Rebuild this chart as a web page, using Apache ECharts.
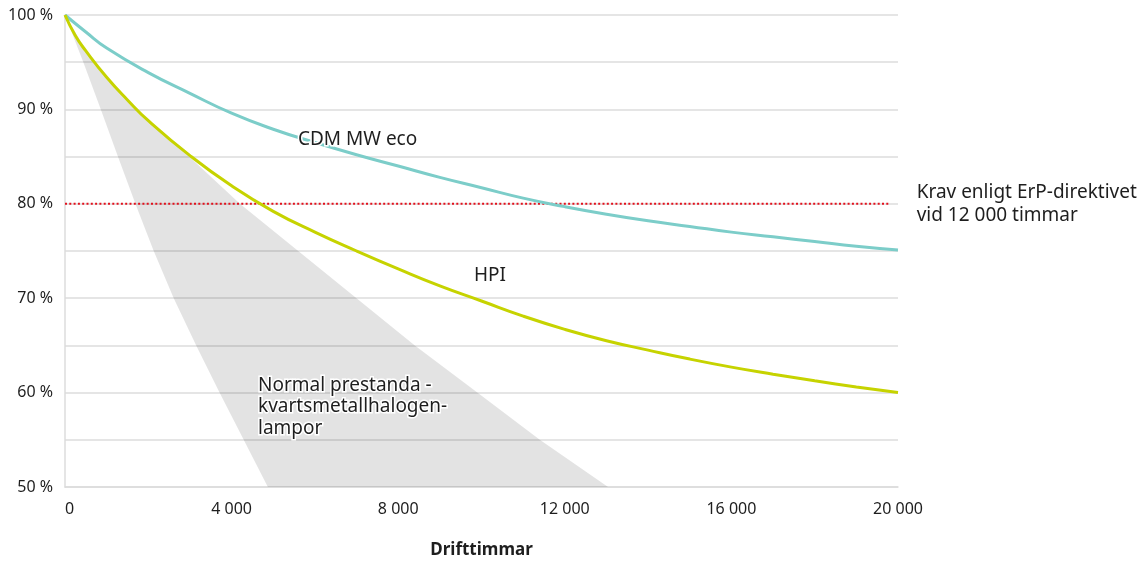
<!DOCTYPE html>
<html>
<head>
<meta charset="utf-8">
<script src="https://cdn.jsdelivr.net/npm/echarts@6/dist/echarts.min.js"></script>
<style>
html,body{margin:0;padding:0;background:#fff;}
#chart{width:1141px;height:564px;}
</style>
</head>
<body>
<div id="chart"></div>
<script>
// ---- data ----
const xTicks = [0, 4000, 8000, 12000, 16000, 20000];
const yTicks = [50, 60, 70, 80, 90, 100];

const cdmHours = [0,500,1000,2000,3000,4000,5000,6000,7000,8000,9000,10000,11000,12000,13000,14000,15000,16000,17000,18000,19000,20000];
const cdmValues = [100,98.2,96.5,93.9,91.7,89.6,87.9,86.5,85.2,84.0,82.8,81.7,80.6,79.7,78.9,78.2,77.6,77.0,76.5,76.0,75.5,75.1];

const hpiHours = [0,250,500,1000,1500,2000,3000,4000,5000,6000,7000,8000,9000,10000,11000,12000,13000,14000,15000,16000,17000,18000,19000,20000];
const hpiValues = [100,97.8,96.2,93.4,91.0,88.8,85.1,81.9,79.2,77.0,75.0,73.1,71.3,69.7,68.1,66.7,65.5,64.5,63.55,62.7,61.95,61.25,60.6,60.0];

// grey band "Normal prestanda": upper (right) edge and lower (left) edge
const bandUpperHours = [0,680,1700,2980,4200,5600,7000,8400,9900,11400,13040];
const bandUpperValues = [100,95,90,85,80,75,70,65,60,55,50];
const bandLowerHours = [0,440,860,1270,1690,2130,2610,3150,3710,4290,4870];
const bandLowerValues = [100,95,90,85,80,75,70,65,60,55,50];

const erpHours = [0, 19800];
const erpValues = [80, 80];
const erpText = 'Krav enligt ErP-direktivet\nvid 12 000 timmar';

const labelTexts = ['CDM MW eco', 'HPI', 'Normal prestanda -\nkvartsmetallhalogen-\nlampor'];
const labelHours = [5594, 9820, 4634];
const labelValues = [86.8, 72.35, 58.5];

// ---- chart ----
const FONT = 'Noto Sans';
const TXT = '#1e1e1e';
const chart = echarts.init(document.getElementById('chart'), null, {renderer: 'canvas'});

const zip = (a, b) => a.map((v, i) => [v, b[i]]);

const option = {
  animation: false,
  textStyle: {fontFamily: FONT},
  grid: {left: 65, right: 243, top: 15, bottom: 77, containLabel: false, outerBoundsMode: 'none'},
  xAxis: {
    type: 'value', min: 0, max: 20000, interval: 4000,
    axisLine: {show: true, lineStyle: {color: '#dcdcdc', width: 1.5}},
    axisTick: {show: false},
    splitLine: {show: false},
    axisLabel: {
      color: TXT, fontSize: 16, fontFamily: FONT, margin: 14, alignMinLabel: 'left',
      formatter: v => xTicks.includes(v) ? String(v).replace(/\B(?=(\d{3})+(?!\d))/g, ' ') : ''
    },
    name: 'Drifttimmar', nameLocation: 'middle', nameGap: 55,
    nameTextStyle: {color: TXT, fontSize: 17, fontWeight: 'bold', fontFamily: FONT}
  },
  yAxis: {
    type: 'value', min: 50, max: 100, interval: 5,
    axisLine: {show: true, lineStyle: {color: '#dcdcdc', width: 1.5}},
    axisTick: {show: false},
    splitLine: {show: true, lineStyle: {color: '#dcdcdc', width: 1.5}},
    axisLabel: {
      color: TXT, fontSize: 16, fontFamily: FONT, margin: 12,
      formatter: v => yTicks.includes(v) ? v + ' %' : ''
    }
  },
  series: [
    {
      type: 'custom',
      name: 'Normal prestanda',
      z: 1,
      silent: true,
      data: [0],
      renderItem: function (params, api) {
        const pts = [];
        for (let i = 0; i < bandUpperHours.length; i++) pts.push(api.coord([bandUpperHours[i], bandUpperValues[i]]));
        for (let i = bandLowerHours.length - 1; i >= 0; i--) pts.push(api.coord([bandLowerHours[i], bandLowerValues[i]]));
        return {type: 'polygon', shape: {points: pts}, style: {fill: 'rgba(0,0,0,0.11)'}};
      }
    },
    {
      type: 'line', name: 'ErP', z: 3,
      data: zip(erpHours, erpValues),
      showSymbol: false, silent: true,
      lineStyle: {color: '#e3101c', width: 2, type: [2, 2.3]},
      endLabel: {
        show: true, formatter: erpText, distance: 27,
        color: TXT, fontSize: 19, fontFamily: FONT, lineHeight: 23
      }
    },
    {
      type: 'line', name: 'CDM MW eco', z: 4,
      data: zip(cdmHours, cdmValues),
      smooth: 0.5, showSymbol: false, silent: true,
      lineStyle: {color: '#7ccdc9', width: 3}
    },
    {
      type: 'line', name: 'HPI', z: 4,
      data: zip(hpiHours, hpiValues),
      smooth: 0.5, showSymbol: false, silent: true,
      lineStyle: {color: '#c6d300', width: 3}
    },
    {
      type: 'scatter', name: 'labels', z: 5, silent: true, clip: false,
      symbolSize: 0,
      itemStyle: {opacity: 1},
      data: labelTexts.map((t, i) => ({value: [labelHours[i], labelValues[i]], name: t})),
      label: {
        show: true, position: 'right', distance: 0,
        formatter: p => p.name,
        color: TXT, fontSize: 19, fontFamily: FONT, lineHeight: 21.5, align: 'left',
        textBorderColor: '#fff', textBorderWidth: 3
      }
    }
  ]
};
chart.setOption(option);
</script>
</body>
</html>
